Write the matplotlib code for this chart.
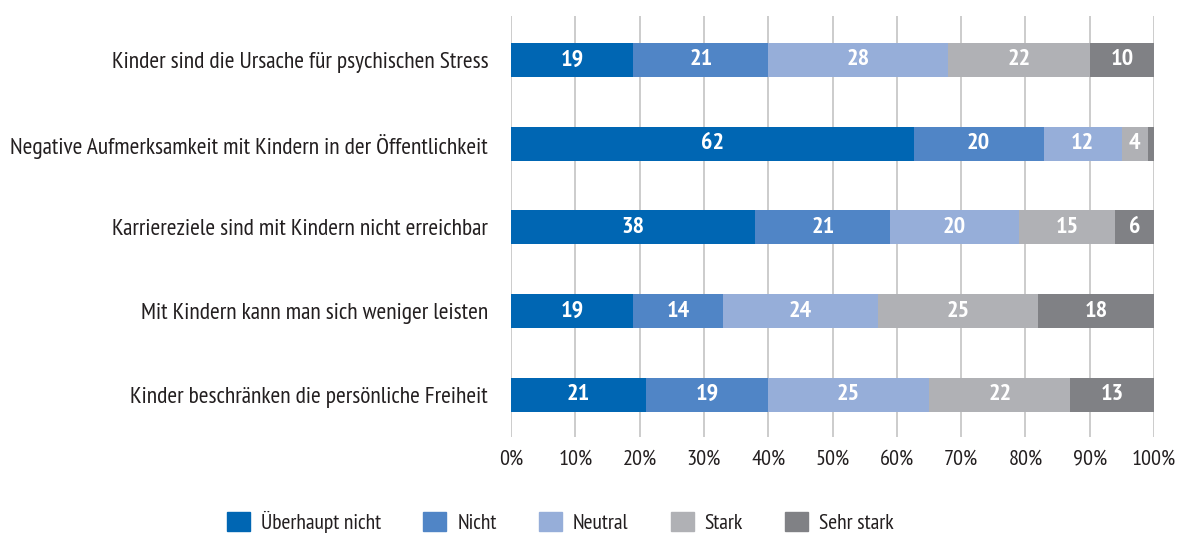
import matplotlib

matplotlib.use("Agg")

import matplotlib.pyplot as plt
import numpy as np
from matplotlib import font_manager
from matplotlib.patches import Patch

categories = [
    "Kinder sind die Ursache für psychischen Stress",
    "Negative Aufmerksamkeit mit Kindern in der Öffentlichkeit",
    "Karriereziele sind mit Kindern nicht erreichbar",
    "Mit Kindern kann man sich weniger leisten",
    "Kinder beschränken die persönliche Freiheit",
]
series = ["Überhaupt nicht", "Nicht", "Neutral", "Stark", "Sehr stark"]
ueberhaupt_nicht = [19, 62, 38, 19, 21]
nicht = [21, 20, 21, 14, 19]
neutral = [28, 12, 20, 24, 25]
stark = [22, 4, 15, 25, 22]
sehr_stark = [10, 1, 6, 18, 13]
colors = ["#0066b3", "#5085c6", "#96aed9", "#b0b1b5", "#808185"]
ticks = [0, 10, 20, 30, 40, 50, 60, 70, 80, 90, 100]

# condensed sans, closest to the original Myriad Condensed
names = {f.name for f in font_manager.fontManager.ttflist}
wanted = ["Myriad Pro Condensed", "PT Sans Narrow", "Fira Sans Condensed",
          "Roboto Condensed", "Archivo Narrow", "Liberation Sans Narrow"]
family = next((n for n in wanted if n in names), "DejaVu Sans")
plt.rcParams["font.family"] = [family, "DejaVu Sans"]

values = np.array([ueberhaupt_nicht, nicht, neutral, stark, sehr_stark], dtype=float)
shares = values / values.sum(axis=0) * 100

fig = plt.figure(figsize=(11.83, 5.34), dpi=100)
ax = fig.add_axes([0.432, 0.182, 0.5435, 0.788])

y = np.arange(len(categories))
left = np.zeros(len(categories))
for i, name in enumerate(series):
    ax.barh(y, shares[i], left=left, height=0.406, color=colors[i], label=name, zorder=3)
    for j in range(len(categories)):
        if values[i, j] >= 3:
            ax.text(left[j] + shares[i, j] / 2, y[j], f"{values[i, j]:.0f}",
                    ha="center", va="center", color="white",
                    fontsize=17.5, fontweight="bold", zorder=4)
    left += shares[i]

ax.set_xlim(0, 100)
ax.set_ylim(4.50, -0.525)
ax.set_yticks(y)
ax.set_yticklabels(categories, fontsize=16.9, color="#231f20")
ax.set_xticks(ticks)
ax.set_xticklabels([f"{t}%" for t in ticks], fontsize=16, color="#231f20")
ax.tick_params(axis="y", length=0, pad=16.5)
ax.tick_params(axis="x", length=0, pad=9)
ax.grid(axis="x", color="#c4c4c4", linewidth=1.2, zorder=0)
for s in ax.spines.values():
    s.set_visible(False)

handles = [Patch(color=c) for c in colors]
fig.legend(handles, series, loc="center", bbox_to_anchor=(0.4736, 0.0225),
           ncol=5, frameon=False, fontsize=15.6, handlelength=1.06, handleheight=1.0,
           columnspacing=1.95, handletextpad=0.5, labelcolor="#231f20")

fig.savefig("out.png", dpi=100)
